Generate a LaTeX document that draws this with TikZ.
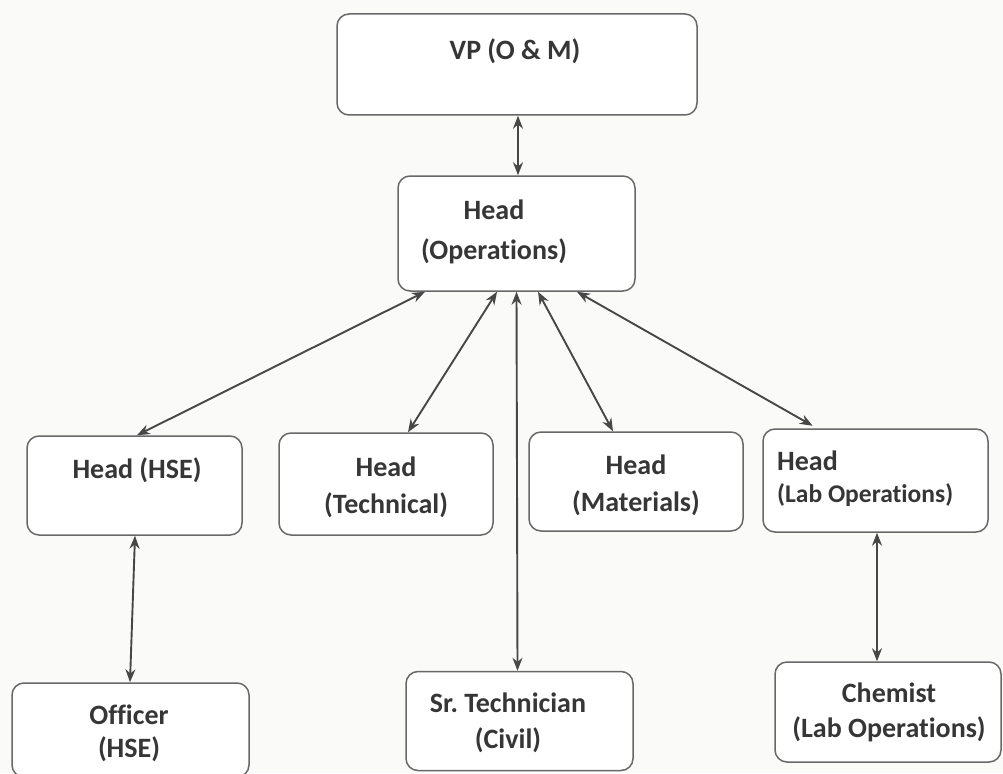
\documentclass[tikz,border=0pt]{standalone}
\usepackage{fontspec}
\setmainfont{Carlito}[Ligatures=NoCommon]
\usetikzlibrary{arrows.meta}
\definecolor{boxline}{HTML}{686868}
\definecolor{txt}{HTML}{363636}
\definecolor{paper}{HTML}{FAFAF8}
\frenchspacing

\begin{document}
\begin{tikzpicture}[x=1pt,y=-1pt,
        post/.style={draw=boxline,line width=1.5pt,rounded corners=12pt,fill=white,inner sep=0pt},
        lbl/.style={text=txt,font=\fontsize{28}{37}\selectfont\bfseries,align=center,inner sep=0pt},
        link/.style={draw=black!72,line width=1.9pt,{Stealth[length=13pt,width=10pt]}-{Stealth[length=13pt,width=10pt]}}]
    \fill[paper] (0,0) rectangle (1003,773);
    \useasboundingbox (0,0) rectangle (1003,773);

    % boxes
    \node[post,minimum width=360pt,minimum height=101pt] (vp) at (517,64.5) {};
    \node[post,minimum width=237pt,minimum height=115pt] (ops) at (516.5,233.5) {};
    \node[post,minimum width=215pt,minimum height=99pt] (hse) at (134.5,485.5) {};
    \node[post,minimum width=214pt,minimum height=102pt] (tech) at (386,484) {};
    \node[post,minimum width=214pt,minimum height=99pt] (mat) at (636,481.5) {};
    \node[post,minimum width=225pt,minimum height=103pt] (lab) at (875.5,480.5) {};
    \node[post,minimum width=237pt,minimum height=94pt] (off) at (130.5,730) {};
    \node[post,minimum width=227pt,minimum height=99pt] (sr) at (519.5,721) {};
    \node[post,minimum width=226pt,minimum height=100pt] (chem) at (888,712) {};

    % labels
    \node[lbl] (vpT) at (515,51) {VP (O \& M)};
    \node[lbl,font=\fontsize{28}{40}\selectfont\bfseries] (opsT) at (494,232) {Head\\(Operations)};
    \node[lbl] (hseT) at (137,470) {Head (HSE)};
    \node[lbl] (techT) at (386,487) {Head\\(Technical)};
    \node[lbl] (matT) at (636,485) {Head\\(Materials)};
    \node[lbl,align=left,anchor=west,font=\fontsize{28}{32}\selectfont\bfseries] (labT) at (777,479)
        {Head\\{\fontsize{25.5}{32}\selectfont(Lab Operations)}};
    \node[lbl,font=\fontsize{28}{33}\selectfont\bfseries] (offT) at (129,733.5) {Officer\\(HSE)};
    \node[lbl,font=\fontsize{28}{36}\selectfont\bfseries] (srT) at (508,723) {Sr. Technician\\(Civil)};
    \node[lbl,font=\fontsize{28}{35}\selectfont\bfseries] (chemT) at (889,712.5) {Chemist\\(Lab Operations)};

    % links
    \draw[link] ([xshift=1pt]vp.south) -- ([xshift=1.5pt]ops.north);
    \draw[link] ([xshift=-91.5pt]ops.south) -- ([xshift=2.5pt]hse.north);
    \draw[link] ([xshift=-19.5pt]ops.south) -- ([xshift=22pt]tech.north);
    \draw[link] (ops.south) -- ([xshift=-2pt]sr.north);
    \draw[link] ([xshift=21.5pt]ops.south) -- ([xshift=-23pt]mat.north);
    \draw[link,shorten >=5pt] ([xshift=60.5pt]ops.south) -- ([xshift=-58.5pt]lab.north);
    \draw[link] ([xshift=0.5pt]hse.south) -- ([xshift=-0.5pt]off.north);
    \draw[link] ([xshift=1.5pt]lab.south) -- ([xshift=-11pt]chem.north);
\end{tikzpicture}
\end{document}
